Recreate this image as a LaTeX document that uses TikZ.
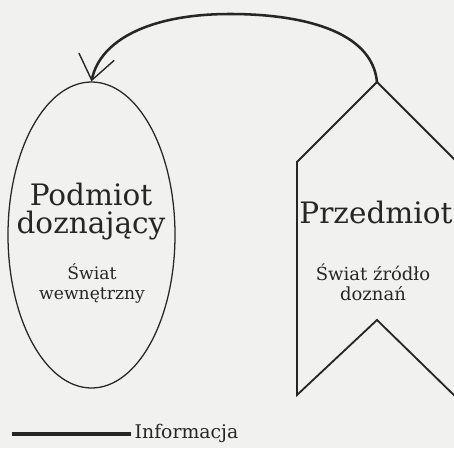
\documentclass[tikz,border=0pt]{standalone}
\usepackage{fontspec}
\setmainfont{DejaVu Serif}
\usepackage{tikz}
\usetikzlibrary{shapes.geometric, arrows.meta}
\definecolor{papier}{RGB}{241,241,239}
\definecolor{tusz}{RGB}{38,38,38}

\begin{document}
\begin{tikzpicture}[x=0.025cm, y=-0.025cm]
  % Tlo i granice rysunku
  \fill[papier] (0,0) rectangle (454,448);
  \useasboundingbox (0,0) rectangle (454,448);
  % Podmiot: elipsa
  \node[draw=tusz, line width=0.9pt, ellipse, minimum width=167*0.025cm,
    minimum height=306*0.025cm, inner sep=0pt] (podmiot) at (91.5,235) {};
  \node[anchor=base, tusz, align=center, inner sep=0pt,
    font={\fontsize{21}{19.8}\selectfont}] (podmiotTxt) at (91,233) {Podmiot\\doznający};
  \node[anchor=base, tusz, align=center, inner sep=0pt,
    font={\fontsize{12.2}{13.8}\selectfont}] (swiatTxt) at (92,299) {Świat\\wewnętrzny};
  % Przedmiot: choragiewka z wcieciem
  \coordinate (szczyt) at (377,82);
  \draw[tusz, line width=1.3pt, line join=miter]
    (297,162) -- (szczyt) -- (460,165) -- (460,401) -- (377,320) -- (297,395) -- cycle;
  \node[anchor=base, tusz, inner sep=0pt,
    font={\fontsize{21}{24}\selectfont}] (przedmiot) at (376,223) {Przedmiot};
  \node[anchor=base, tusz, align=center, inner sep=0pt,
    font={\fontsize{12.8}{13.8}\selectfont}] (zrodloTxt) at (373,300) {Świat źródło\\doznań};
  % Informacja: luk ze strzalka
  \draw[tusz, line width=1.8pt,
    -{Straight Barb[length=0.6cm, width=0.9cm, line width=1pt]}]
    (szczyt) .. controls (372,30) and (300,14) .. (230,14)
    .. controls (150,14) and (100,40) .. (podmiot.north);
  % Legenda
  \coordinate (legL) at (12,434);
  \coordinate (legP) at (131,434);
  \draw[tusz, line width=2.3pt] (legL) -- (legP);
  \node[anchor=base west, tusz, inner sep=1pt,
    font={\fontsize{13.4}{15}\selectfont}] (info) at (133,438) {Informacja};
\end{tikzpicture}
\end{document}
